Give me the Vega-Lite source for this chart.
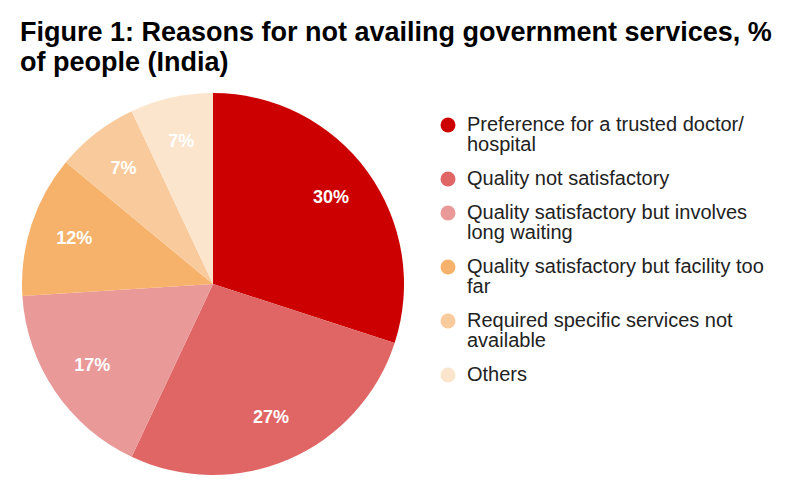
{
  "$schema": "https://vega.github.io/schema/vega-lite/v6.json",
  "width": 426,
  "height": 382,
  "autosize": {"type": "none"},
  "padding": {"left": 0, "top": 93, "right": 360, "bottom": 8},
  "background": "white",
  "title": {
    "text": ["Figure 1: Reasons for not availing government services, %", "of people (India)"],
    "anchor": "start",
    "frame": "group",
    "dx": 20,
    "offset": 16,
    "font": "Liberation Sans",
    "fontSize": 27,
    "fontWeight": "bold",
    "color": "#000000",
    "lineHeight": 30
  },
  "data": {
    "values": [
      {"reason": "Preference for a trusted doctor/|hospital", "pct": 0.30, "order": 1},
      {"reason": "Quality not satisfactory", "pct": 0.27, "order": 2},
      {"reason": "Quality satisfactory but involves|long waiting", "pct": 0.17, "order": 3},
      {"reason": "Quality satisfactory but facility too|far", "pct": 0.12, "order": 4},
      {"reason": "Required specific services not|available", "pct": 0.07, "order": 5},
      {"reason": "Others", "pct": 0.07, "order": 6}
    ]
  },
  "encoding": {
    "theta": {"field": "pct", "type": "quantitative", "stack": true},
    "order": {"field": "order", "type": "quantitative"},
    "color": {
      "field": "reason",
      "type": "nominal",
      "scale": {
        "domain": [
          "Preference for a trusted doctor/|hospital",
          "Quality not satisfactory",
          "Quality satisfactory but involves|long waiting",
          "Quality satisfactory but facility too|far",
          "Required specific services not|available",
          "Others"
        ],
        "range": ["#cc0000", "#e06666", "#ea9999", "#f6b26b", "#f9cb9c", "#fce5cd"]
      },
      "legend": {
        "orient": "none",
        "legendX": 438,
        "legendY": 22,
        "title": null,
        "labelExpr": "split(datum.label, '|')",
        "labelFont": "Liberation Sans",
        "labelFontSize": 20,
        "labelColor": "#222222",
        "labelLimit": 400,
        "labelOffset": 9,
        "symbolType": "circle",
        "symbolSize": 225,
        "symbolStrokeWidth": 0,
        "symbolOpacity": 1,
        "rowPadding": 14,
        "encode": {"labels": {"update": {"lineHeight": {"value": 20}}}}
      }
    }
  },
  "layer": [
    {"mark": {"type": "arc"}},
    {
      "mark": {"type": "text", "radius": 146, "font": "Liberation Sans", "fontSize": 18, "fontWeight": "bold", "color": "white"},
      "encoding": {
        "text": {"field": "pct", "type": "quantitative", "format": ".0%"},
        "color": {"value": "white"}
      }
    }
  ],
  "config": {"view": {"stroke": null}}
}
